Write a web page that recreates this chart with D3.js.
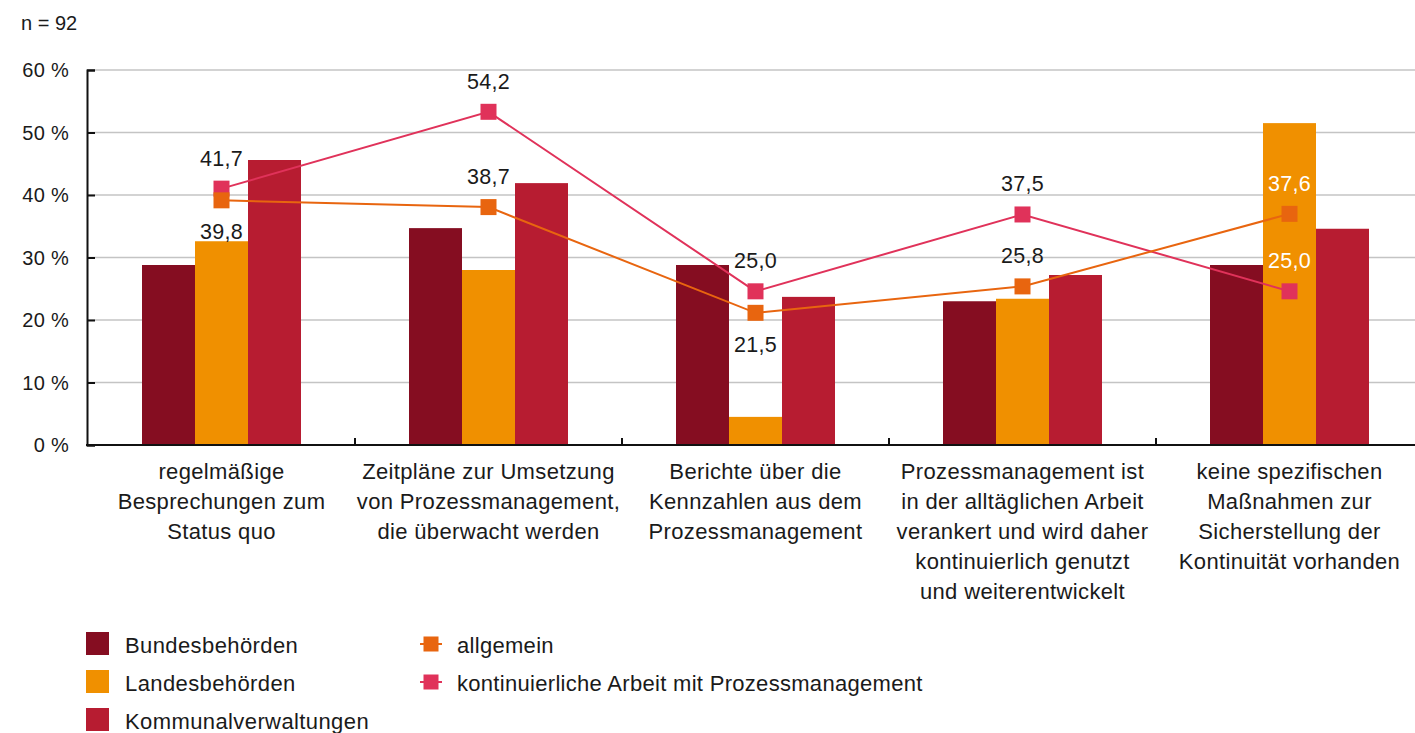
<!DOCTYPE html>
<html>
<head>
<meta charset="utf-8">
<script src="https://cdn.jsdelivr.net/npm/d3@7"></script>
<style>
  body { margin: 0; background: #fff; }
  text { font-family: "Liberation Sans", Arial, sans-serif; fill: #1a1a1a; }
</style>
</head>
<body>
<script>
(function() {
  'use strict';

  var categories = [
    ["regelmäßige", "Besprechungen zum", "Status quo"],
    ["Zeitpläne zur Umsetzung", "von Prozessmanagement,", "die überwacht werden"],
    ["Berichte über die", "Kennzahlen aus dem", "Prozessmanagement"],
    ["Prozessmanagement ist", "in der alltäglichen Arbeit", "verankert und wird daher", "kontinuierlich genutzt", "und weiterentwickelt"],
    ["keine spezifischen", "Maßnahmen zur", "Sicherstellung der", "Kontinuität vorhanden"]
  ];
  var barSeries = ["Bundesbehörden", "Landesbehörden", "Kommunalverwaltungen"];
  var bundes = [28.8, 34.7, 28.8, 23.0, 28.8];
  var landes = [32.6, 28.0, 4.5, 23.4, 51.5];
  var kommunal = [45.6, 41.9, 23.7, 27.2, 34.6];
  var lineSeries = ["allgemein", "kontinuierliche Arbeit mit Prozessmanagement"];
  var allgemein = [39.8, 38.7, 21.5, 25.8, 37.6];
  var kontinuierlich = [41.7, 54.2, 25.0, 37.5, 25.0];
  var allgemeinLabelSide = ["below", "above", "below", "above", "above"];
  var yTicks = [0, 10, 20, 30, 40, 50, 60];

  var width = 1415;
  var height = 733;
  var barColors = ["#850d21", "#f09000", "#b71c31"];
  var lineColors = ["#e8650f", "#e0325a"];

  var svg = d3.select("body").append("svg")
    .attr("width", width)
    .attr("height", height);

  var x0 = d3.scaleBand()
    .domain(d3.range(categories.length))
    .range([88, 1423])
    .paddingInner(0);

  var x1 = d3.scaleBand()
    .domain(barSeries)
    .range([54, x0.bandwidth() - 54]);

  var y = d3.scaleLinear()
    .domain([0, 60])
    .range([445, 70]);

  // the lines sit on a slightly different (hidden) secondary scale
  var yLine = d3.scaleLinear()
    .domain([0, 61])
    .range([445, 70]);

  // grid
  svg.append("g")
    .selectAll("line")
    .data(yTicks.slice(1))
    .join("line")
    .attr("x1", 87)
    .attr("x2", width)
    .attr("y1", function (d) { return y(d); })
    .attr("y2", function (d) { return y(d); })
    .attr("stroke", "#c4c4c4")
    .attr("stroke-width", 1.5);

  // bars
  var barData = [bundes, landes, kommunal];
  var groups = svg.append("g")
    .selectAll("g")
    .data(d3.range(categories.length))
    .join("g")
    .attr("transform", function (i) { return "translate(" + x0(i) + ",0)"; });

  groups.selectAll("rect")
    .data(function (i) {
      return barSeries.map(function (s, k) { return { s: s, k: k, v: barData[k][i] }; });
    })
    .join("rect")
    .attr("x", function (d) { return x1(d.s); })
    .attr("width", x1.bandwidth())
    .attr("y", function (d) { return y(d.v); })
    .attr("height", function (d) { return y(0) - y(d.v); })
    .attr("fill", function (d) { return barColors[d.k]; });

  // axes
  var yAxis = d3.axisRight(y)
    .tickValues(yTicks)
    .tickSize(8)
    .tickFormat("");
  var yg = svg.append("g")
    .attr("transform", "translate(87,0)")
    .call(yAxis);
  yg.select(".domain").attr("stroke", "#111").attr("stroke-width", 2);
  yg.selectAll(".tick line").attr("stroke", "#111").attr("stroke-width", 2);

  svg.append("g")
    .selectAll("text")
    .data(yTicks)
    .join("text")
    .attr("x", 69)
    .attr("y", function (d) { return y(d) + 7; })
    .attr("text-anchor", "end")
    .attr("font-size", 20)
    .attr("letter-spacing", 0.3)
    .text(function (d) { return d + " %"; });

  svg.append("line")
    .attr("x1", 86)
    .attr("x2", width)
    .attr("y1", 445)
    .attr("y2", 445)
    .attr("stroke", "#111")
    .attr("stroke-width", 2);

  svg.append("g")
    .selectAll("line")
    .data(d3.range(1, categories.length))
    .join("line")
    .attr("x1", function (i) { return x0(i); })
    .attr("x2", function (i) { return x0(i); })
    .attr("y1", 445)
    .attr("y2", 438)
    .attr("stroke", "#111")
    .attr("stroke-width", 2);

  // category labels
  var catText = svg.append("g")
    .selectAll("text")
    .data(categories)
    .join("text")
    .attr("text-anchor", "middle")
    .attr("font-size", 22)
    .attr("letter-spacing", 0.35);
  catText.selectAll("tspan")
    .data(function (d, i) { return d.map(function (t) { return { t: t, i: i }; }); })
    .join("tspan")
    .attr("x", function (d) { return x0(d.i) + x0.bandwidth() / 2; })
    .attr("y", function (d, j) { return 479 + j * 30; })
    .text(function (d) { return d.t; });

  // lines
  var cx = function (i) { return x0(i) + x0.bandwidth() / 2; };
  var lineData = [allgemein, kontinuierlich];
  var line = d3.line()
    .x(function (d, i) { return cx(i); })
    .y(function (d) { return yLine(d); });

  [1, 0].forEach(function (k) {
    svg.append("path")
      .datum(lineData[k])
      .attr("d", line)
      .attr("fill", "none")
      .attr("stroke", lineColors[k])
      .attr("stroke-width", 2);
    svg.append("g")
      .selectAll("rect")
      .data(lineData[k])
      .join("rect")
      .attr("x", function (d, i) { return cx(i) - 8; })
      .attr("y", function (d) { return yLine(d) - 8; })
      .attr("width", 16)
      .attr("height", 16)
      .attr("fill", lineColors[k]);
  });

  var fmt = function (v) { return d3.format(".1f")(v).replace(".", ","); };
  var labelColor = function (i) { return i === 4 ? "#fff" : "#1a1a1a"; };

  svg.append("g")
    .selectAll("text")
    .data(kontinuierlich)
    .join("text")
    .attr("x", function (d, i) { return cx(i); })
    .attr("y", function (d) { return yLine(d) - 23; })
    .attr("text-anchor", "middle")
    .attr("font-size", 21.5)
    .attr("letter-spacing", 0.3)
    .style("fill", function (d, i) { return labelColor(i); })
    .text(fmt);

  svg.append("g")
    .selectAll("text")
    .data(allgemein)
    .join("text")
    .attr("x", function (d, i) { return cx(i); })
    .attr("y", function (d, i) {
      return allgemeinLabelSide[i] === "above" ? yLine(d) - 23 : yLine(d) + 39;
    })
    .attr("text-anchor", "middle")
    .attr("font-size", 21.5)
    .attr("letter-spacing", 0.3)
    .style("fill", function (d, i) { return labelColor(i); })
    .text(fmt);

  // n
  svg.append("text")
    .attr("x", 21)
    .attr("y", 30)
    .attr("font-size", 20)
    .text("n = 92");

  // legend
  var leg = svg.append("g");
  barSeries.forEach(function (s, k) {
    var ly = 643 + k * 38;
    leg.append("rect")
      .attr("x", 86).attr("y", ly - 11)
      .attr("width", 23).attr("height", 23)
      .attr("fill", barColors[k]);
    leg.append("text")
      .attr("x", 125).attr("y", ly + 10)
      .attr("font-size", 22)
      .attr("letter-spacing", 0.4)
      .text(s);
  });
  lineSeries.forEach(function (s, k) {
    var ly = 644 + k * 38;
    leg.append("line")
      .attr("x1", 420).attr("x2", 442)
      .attr("y1", ly).attr("y2", ly)
      .attr("stroke", lineColors[k]).attr("stroke-width", 2);
    leg.append("rect")
      .attr("x", 423.5).attr("y", ly - 7.5)
      .attr("width", 15).attr("height", 15)
      .attr("fill", lineColors[k]);
    leg.append("text")
      .attr("x", 457).attr("y", ly + 9)
      .attr("font-size", 22)
      .attr("letter-spacing", 0.3)
      .text(s);
  });
})();
</script>
</body>
</html>
